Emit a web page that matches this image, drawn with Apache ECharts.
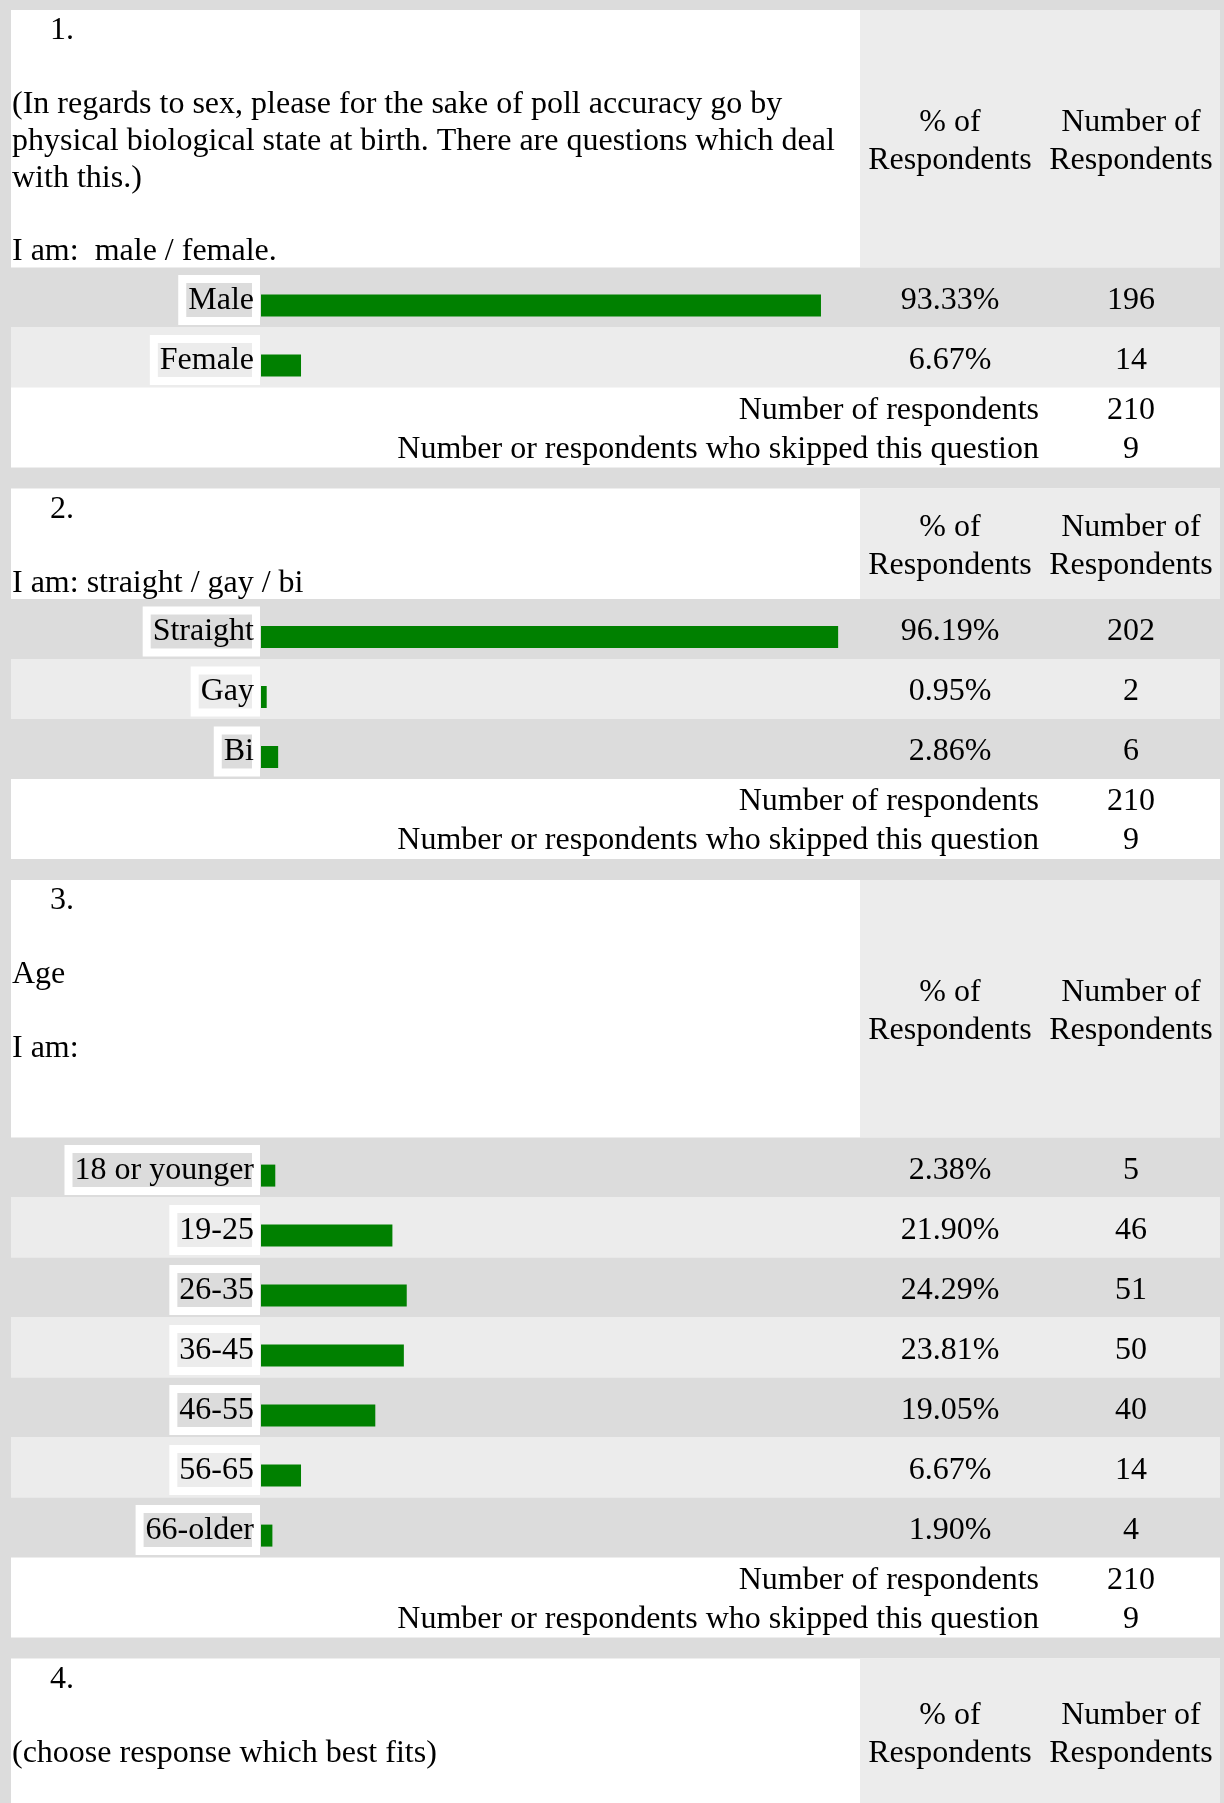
<!DOCTYPE html>
<html><head><meta charset="utf-8">
<script src="https://cdn.jsdelivr.net/npm/echarts@6/dist/echarts.min.js"></script>
<style>html,body{margin:0;padding:0;background:#dcdcdc;}#c{width:1224px;height:1803px;}</style>
</head><body><div id="c"></div>
<script>
// ---------- data ----------
const q1Number = '1.';
const q1Lines = ['', '(In regards to sex, please for the sake of poll accuracy go by', 'physical biological state at birth. There are questions which deal', 'with this.)', '', 'I am:  male / female.'];
const q1Categories = ['Male', 'Female'];
const q1Percent = [93.33, 6.67];
const q1Count = [196, 14];
const q1Respondents = 210;
const q1Skipped = 9;

const q2Number = '2.';
const q2Lines = ['', 'I am: straight / gay / bi'];
const q2Categories = ['Straight', 'Gay', 'Bi'];
const q2Percent = [96.19, 0.95, 2.86];
const q2Count = [202, 2, 6];
const q2Respondents = 210;
const q2Skipped = 9;

const q3Number = '3.';
const q3Lines = ['', 'Age', '', 'I am:', '', ''];
const q3Categories = ['18 or younger', '19-25', '26-35', '36-45', '46-55', '56-65', '66-older'];
const q3Percent = [2.38, 21.90, 24.29, 23.81, 19.05, 6.67, 1.90];
const q3Count = [5, 46, 51, 50, 40, 14, 4];
const q3Respondents = 210;
const q3Skipped = 9;

const q4Number = '4.';
const q4Lines = ['', '(choose response which best fits)', ''];

const headerPct = ['% of', 'Respondents'];
const headerNum = ['Number of', 'Respondents'];
const footerLabels = ['Number of respondents', 'Number or respondents who skipped this question'];

// ---------- layout ----------
const W = 1224, H = 1803;
const FONT = '"Liberation Serif", "Times New Roman", Times, serif';
const FS = 32;
const LEFT = 11, RIGHT = 1220, PCT_L = 860, PCT_C = 950, NUM_C = 1131, FOOT_R = 1039;
const BAR_L = 261, BAR_W = 600;
const LH = 36.8, ROW = 60, FOOT = 80, GAP = 21, TY = 2.5;
const DARK = '#dcdcdc', LIGHT = '#ececec', HEAD = '#ececec';

const questions = [
  {num: q1Number, lines: q1Lines, cats: q1Categories, pct: q1Percent, cnt: q1Count, total: q1Respondents, skipped: q1Skipped},
  {num: q2Number, lines: q2Lines, cats: q2Categories, pct: q2Percent, cnt: q2Count, total: q2Respondents, skipped: q2Skipped},
  {num: q3Number, lines: q3Lines, cats: q3Categories, pct: q3Percent, cnt: q3Count, total: q3Respondents, skipped: q3Skipped},
  {num: q4Number, lines: q4Lines, cats: [], pct: [], cnt: []}
];

function txt(x, y, s, align) {
  return {type: 'text', x: x, y: y + TY, z: 10, silent: true,
    style: {text: s, font: FS + 'px ' + FONT, fill: '#000', textAlign: align || 'left', textVerticalAlign: 'middle'}};
}
function rect(x, y, w, h, c) {
  return {type: 'rect', z: -5, silent: true, shape: {x: x, y: y, width: w, height: h}, style: {fill: c}};
}

const graphics = [], grids = [], xAxes = [], yAxes = [], series = [];
let y = 10;
questions.forEach(function (q) {
  const top = y;
  const nLines = 1 + q.lines.length;
  const headH = nLines * LH;
  const rowsTop = top + headH;
  const n = q.cats.length;
  const footTop = rowsTop + n * ROW;
  const bottom = n ? footTop + FOOT : H;
  graphics.push(rect(LEFT, top, RIGHT - LEFT, bottom - top, '#ffffff'));
  graphics.push(rect(PCT_L, top, RIGHT - PCT_L, headH, HEAD));
  graphics.push(txt(50, top + LH / 2, q.num));
  q.lines.forEach(function (l, i) { if (l) graphics.push(txt(12, top + LH * (i + 1.5), l)); });
  const cy = top + headH / 2;
  graphics.push(txt(PCT_C, cy - 19, headerPct[0], 'center'));
  graphics.push(txt(PCT_C, cy + 19, headerPct[1], 'center'));
  graphics.push(txt(NUM_C, cy - 19, headerNum[0], 'center'));
  graphics.push(txt(NUM_C, cy + 19, headerNum[1], 'center'));
  if (n) {
    q.cats.forEach(function (c, i) {
      const ry = rowsTop + i * ROW;
      graphics.push(rect(LEFT, ry, RIGHT - LEFT, ROW, i % 2 ? LIGHT : DARK));
      graphics.push(txt(PCT_C, ry + ROW / 2, q.pct[i].toFixed(2) + '%', 'center'));
      graphics.push(txt(NUM_C, ry + ROW / 2, String(q.cnt[i]), 'center'));
    });
    graphics.push(txt(FOOT_R, footTop + 20.5, footerLabels[0], 'right'));
    graphics.push(txt(NUM_C, footTop + 20.5, String(q.total), 'center'));
    graphics.push(txt(FOOT_R, footTop + 59.5, footerLabels[1], 'right'));
    graphics.push(txt(NUM_C, footTop + 59.5, String(q.skipped), 'center'));

    // label grid (category labels in white-bordered boxes)
    const gl = grids.length;
    grids.push({left: BAR_L, top: rowsTop + TY, width: BAR_W, height: n * ROW, containLabel: false, outerBoundsMode: 'none'});
    xAxes.push({gridIndex: gl, type: 'value', min: 0, max: 100, show: false});
    yAxes.push({gridIndex: gl, type: 'category', data: q.cats, inverse: true,
      axisLine: {show: false}, axisTick: {show: false}, splitLine: {show: false}, splitArea: {show: false},
      axisLabel: {show: true, interval: 0, margin: 5, align: 'right', verticalAlign: 'middle',
        fontFamily: FONT, fontSize: FS, color: '#000', lineHeight: 36,
        backgroundColor: 'transparent', borderColor: '#ffffff', borderWidth: 4, padding: [3, 2, 3, 6]}});
    // bar grid (bars sit a little below row centre)
    const gb = grids.length;
    grids.push({left: BAR_L, top: rowsTop + 8, width: BAR_W, height: n * ROW, containLabel: false, outerBoundsMode: 'none'});
    xAxes.push({gridIndex: gb, type: 'value', min: 0, max: 100, show: false});
    yAxes.push({gridIndex: gb, type: 'category', data: q.cats, inverse: true, show: false});
    series.push({type: 'bar', xAxisIndex: gb, yAxisIndex: gb, data: q.pct, barWidth: 22,
      itemStyle: {color: '#008000'}, silent: true, animation: false, label: {show: false}});
  }
  y = bottom + GAP;
});

const chart = echarts.init(document.getElementById('c'), null, {renderer: 'canvas', width: W, height: H});
chart.setOption({
  backgroundColor: '#dcdcdc',
  animation: false,
  tooltip: {show: false},
  grid: grids, xAxis: xAxes, yAxis: yAxes, series: series,
  graphic: {elements: graphics}
});
</script></body></html>
